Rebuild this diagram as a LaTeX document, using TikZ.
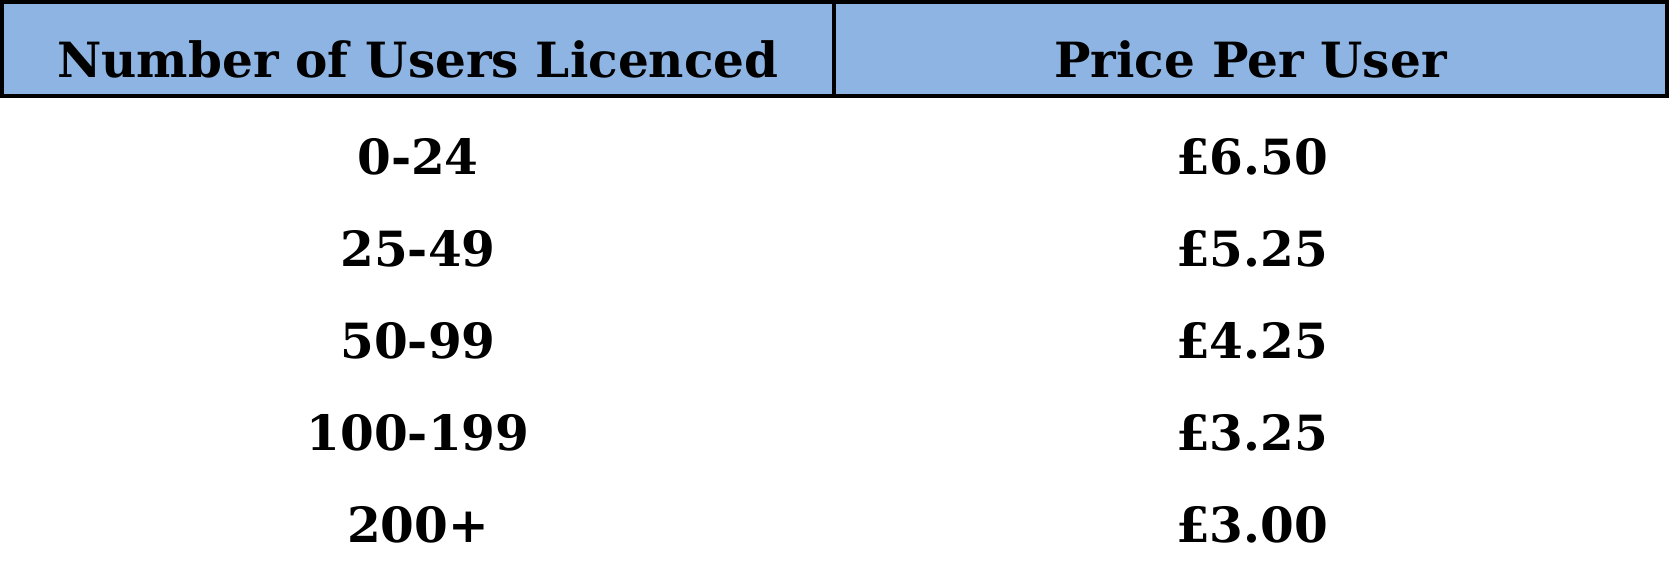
\documentclass[tikz,border=0pt]{standalone}
\usepackage{fontspec}
\setmainfont{DejaVu Serif}
\usepackage{tikz}
\usetikzlibrary{positioning}
\definecolor{hdrblue}{RGB}{141,180,226}
\tikzstyle{headcell} = [rectangle, draw=black, line width=1.1pt, fill=hdrblue, minimum width=8.32cm, minimum height=0.94cm, inner sep=0pt, outer sep=0pt, text height=0.56cm, text depth=0cm, font=\fontsize{13.8}{16}\selectfont\bfseries]
\tikzstyle{datacell} = [inner sep=0pt, text centered, font=\fontsize{13.8}{16}\selectfont\bfseries]

\begin{document}
\begin{tikzpicture}[x=0.01cm, y=-0.01cm, node distance=0.92cm]
			\useasboundingbox (0,0) rectangle (1669,566);
			\node (hdrusers) [headcell] at (418,49) {Number of Users Licenced};
			\node (hdrprice) [headcell,right=0cm of hdrusers] {Price Per User};

			\node (u1) [datacell] at (418,157) {0-24};
			\node (u2) [datacell,below of=u1] {25-49};
			\node (u3) [datacell,below of=u2] {50-99};
			\node (u4) [datacell,below of=u3] {100-199};
			\node (u5) [datacell,below of=u4] {200+};
			\node (p1) [datacell] at (1252,157) {£6.50};
			\node (p2) [datacell,below of=p1] {£5.25};
			\node (p3) [datacell,below of=p2] {£4.25};
			\node (p4) [datacell,below of=p3] {£3.25};
			\node (p5) [datacell,below of=p4] {£3.00};

			\end{tikzpicture}
\end{document}
